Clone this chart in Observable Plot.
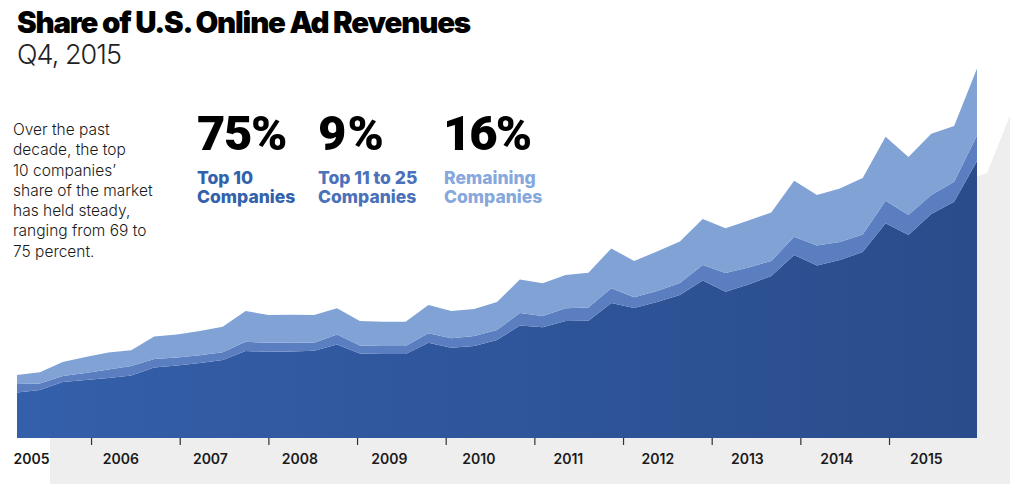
<!DOCTYPE html>
<html><head><meta charset="utf-8">
<script src="https://cdn.jsdelivr.net/npm/d3@7"></script>
<script src="https://cdn.jsdelivr.net/npm/@observablehq/plot@0.6"></script>
<style>
html,body{margin:0;padding:0;background:#fff;}
#wrap{position:relative;width:1024px;height:484px;overflow:hidden;font-family:Inter,"Noto Sans",sans-serif;}
#chart{position:absolute;left:0;top:0;}
.t{position:absolute;white-space:nowrap;}
.big{font-family:Roboto,Inter,sans-serif;font-size:49px;font-weight:900;color:#000;line-height:50px;top:109px;}
.lab{font-size:17.5px;font-weight:800;line-height:19px;top:168px;}
</style></head><body>
<div id="wrap">
<div id="chart"></div>
<div class="t fit" data-w="453" style="left:17px;top:5px;font-size:29.5px;font-weight:900;color:#000;line-height:34px;">Share of U.S. Online Ad Revenues</div>
<div class="t fit" data-w="104" style="left:17px;top:39px;font-size:27px;font-weight:300;color:#222;line-height:32px;">Q4, 2015</div>
<div class="t" style="left:13px;top:120px;font-size:15.5px;font-weight:300;color:#1a1a1a;line-height:20.3px;">Over the past<br>decade, the top<br>10 companies’<br>share of the market<br>has held steady,<br>ranging from 69 to<br>75 percent.</div>
<div class="t big fit" data-w="89" style="left:197px;">75%</div>
<div class="t big fit" data-w="67" style="left:318px;">9%</div>
<div class="t big fit" data-w="87" style="left:443px;">16%</div>
<div class="t lab" style="left:197px;color:#3262ab;">Top 10<br>Companies</div>
<div class="t lab" style="left:318px;color:#4a71ba;">Top 11 to 25<br>Companies</div>
<div class="t lab" style="left:444px;color:#86a8dc;">Remaining<br>Companies</div>
</div>
<script>
// Quarterly share data, 2005 Q2 – 2015 Q4 (US$ billions)
const top10 = [2.46,2.59,3.03,3.14,3.24,3.38,3.81,3.92,4.05,4.22,4.70,4.66,4.68,4.72,5.06,4.57,4.54,4.54,5.15,4.88,4.97,5.30,6.08,5.98,6.32,6.34,7.30,7.03,7.35,7.73,8.51,7.91,8.30,8.76,9.89,9.32,9.62,10.05,11.61,10.97,12.11,12.77,14.97];
const top11to25 = [0.46,0.35,0.32,0.38,0.46,0.51,0.46,0.43,0.42,0.41,0.50,0.49,0.48,0.43,0.54,0.43,0.43,0.43,0.51,0.51,0.54,0.54,0.68,0.61,0.69,0.72,0.79,0.58,0.59,0.65,0.84,1.01,0.92,0.81,0.99,1.08,0.98,0.95,1.22,1.08,1.03,1.08,1.38];
const remaining = [0.49,0.62,0.76,0.86,0.92,0.86,1.22,1.24,1.31,1.38,1.66,1.50,1.50,1.50,1.41,1.32,1.31,1.31,1.53,1.48,1.46,1.51,1.81,1.77,1.80,1.87,2.16,1.96,2.14,2.24,2.49,2.42,2.54,2.62,3.03,2.73,2.88,3.05,3.46,3.14,3.30,3.01,3.62];
const seriesNames = ["Top 10", "Top 11 to 25", "Remaining"];
const yearLabels = [2005,2006,2007,2008,2009,2010,2011,2012,2013,2014,2015];
const tickYears = [2005,2006,2007,2008,2009,2010,2011,2012,2013,2014];

const seriesValues = [top10, top11to25, remaining];
const long = [];
seriesNames.forEach((s, k) => seriesValues[k].forEach((v, i) => long.push({i, s, v})));
const totals = top10.map((v, i) => ({i, total: v + top11to25[i] + remaining[i]}));

// axis placement (in quarter-index units)
const labelPos = y => 0.61 + 3.915 * (y - 2005);
const tickPos = y => 3.24 + 3.879 * (y - 2005);

const chart = Plot.plot({
  width: 1024, height: 484,
  marginLeft: 17, marginRight: 47, marginTop: 68, marginBottom: 46,
  style: {fontFamily: "Inter, 'Noto Sans', sans-serif", background: "transparent", overflow: "visible"},
  x: {domain: [0, 42], axis: null},
  y: {domain: [0, 20], axis: null},
  color: {domain: seriesNames, range: ["url(#darkGrad)", "#5b7ec1", "#80a2d5"]},
  marks: [
    Plot.areaY(totals, {x: "i", y: "total", fill: "#eeeeee", dx: 33, dy: 47}),
    Plot.areaY(long, Plot.stackY({x: "i", y: "v", z: "s", fill: "s", order: seriesNames})),
    Plot.ruleX(tickYears, {x: tickPos, y1: 0, y2: -0.38, stroke: "#333", strokeWidth: 1.2}),
    Plot.text(yearLabels, {x: labelPos, y: 0, text: d => String(d), dy: 21, fontSize: 14, fontWeight: 600, fill: "#1a1a1a"})
  ]
});
const ns = "http://www.w3.org/2000/svg";
const defs = document.createElementNS(ns, "defs");
defs.innerHTML = '<linearGradient id="darkGrad" x1="0" x2="1" y1="0" y2="0"><stop offset="0" stop-color="#345faa"/><stop offset="1" stop-color="#2a4c8b"/></linearGradient>';
chart.insertBefore(defs, chart.firstChild);
document.getElementById("chart").appendChild(chart);

// fit letter-spacing of headline texts to measured widths
document.querySelectorAll(".fit").forEach(el => {
  const target = +el.dataset.w;
  const w = el.getBoundingClientRect().width;
  const n = el.textContent.length;
  el.style.letterSpacing = ((target - w) / n) + "px";
});
</script>
</body></html>
